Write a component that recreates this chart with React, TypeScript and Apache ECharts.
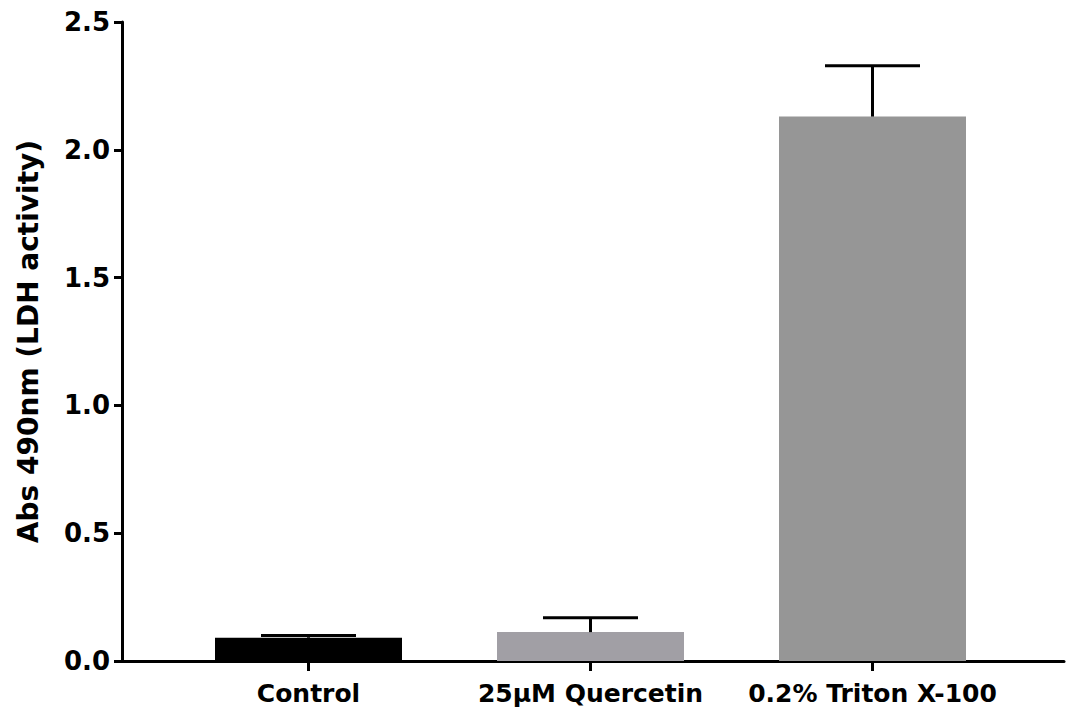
import React, { useEffect, useRef } from "react";
import * as echarts from "echarts";

const categories = ["Control", "25µM Quercetin", "0.2% Triton X-100"];
const means = [0.091, 0.113, 2.13];
const errors = [0.009, 0.056, 0.199];
const barColors = ["#000000", "#a19fa5", "#969696"];
const yTicks = { min: 0, max: 2.5, interval: 0.5 };

const FONT = "DejaVu Sans";

export default function App() {
  const ref = useRef<HTMLDivElement>(null);
  useEffect(() => {
    if (!ref.current) return;
    const chart = echarts.init(ref.current, undefined, { renderer: "svg" });
    const option: any = {
      animation: false,
      backgroundColor: "#ffffff",
      grid: [
        { left: 122, right: 9, top: 22, bottom: 53 },
        { left: 167.5, right: 59.5, top: 22, bottom: 53 },
      ],
      xAxis: [
        {
          type: "value",
          gridIndex: 0,
          min: 0,
          max: 1,
          axisLine: { show: true, onZero: false, lineStyle: { color: "#000", width: 3 } },
          axisTick: { show: false },
          axisLabel: { show: false },
          splitLine: { show: false },
        },
        {
          type: "category",
          gridIndex: 1,
          data: categories,
          axisLine: { show: false },
          axisTick: {
            show: true,
            alignWithLabel: true,
            length: 10,
            lineStyle: { color: "#000", width: 3 },
          },
          axisLabel: {
            interval: 0,
            hideOverlap: false,
            color: "#000",
            fontFamily: FONT,
            fontWeight: "bold",
            fontSize: 25,
            margin: 20,
          },
        },
      ],
      yAxis: [
        {
          type: "value",
          gridIndex: 0,
          min: yTicks.min,
          max: yTicks.max,
          interval: yTicks.interval,
          name: "Abs 490nm (LDH activity)",
          nameLocation: "middle",
          nameRotate: 90,
          nameGap: 80,
          nameTextStyle: {
            color: "#000",
            fontFamily: FONT,
            fontWeight: "bold",
            fontSize: 28,
          },
          axisLine: { show: true, lineStyle: { color: "#000", width: 3 } },
          axisTick: { show: true, length: 8, lineStyle: { color: "#000", width: 3 } },
          axisLabel: {
            color: "#000",
            fontFamily: FONT,
            fontWeight: "bold",
            fontSize: 26,
            margin: 12,
            formatter: (v: number) => v.toFixed(1),
          },
          splitLine: { show: false },
        },
        {
          type: "value",
          gridIndex: 1,
          min: yTicks.min,
          max: yTicks.max,
          interval: yTicks.interval,
          show: false,
          splitLine: { show: false },
        },
      ],
      series: [
        {
          type: "bar",
          xAxisIndex: 1,
          yAxisIndex: 1,
          barWidth: 187,
          data: means.map((v, i) => ({ value: v, itemStyle: { color: barColors[i] } })),
          z: 2,
        },
        {
          type: "custom",
          xAxisIndex: 1,
          yAxisIndex: 1,
          z: 5,
          data: means.map((m, i) => [i, m, m + errors[i]]),
          encode: { x: 0, y: [1, 2] },
          renderItem: (params: any, api: any) => {
            const i = api.value(0);
            const lo = api.coord([i, api.value(1)]);
            const hi = api.coord([i, api.value(2)]);
            const half = 47.5;
            return {
              type: "group",
              children: [
                {
                  type: "line",
                  shape: { x1: lo[0], y1: lo[1], x2: hi[0], y2: hi[1] },
                  style: { stroke: "#000", lineWidth: 3 },
                },
                {
                  type: "line",
                  shape: { x1: hi[0] - half, y1: hi[1], x2: hi[0] + half, y2: hi[1] },
                  style: { stroke: "#000", lineWidth: 3 },
                },
              ],
            };
          },
        },
      ],
    };
    chart.setOption(option);
    return () => chart.dispose();
  }, []);
  return (
    <div
      ref={ref}
      style={{ position: "fixed", left: 0, top: 0, width: 1073, height: 714 }}
    />
  );
}
